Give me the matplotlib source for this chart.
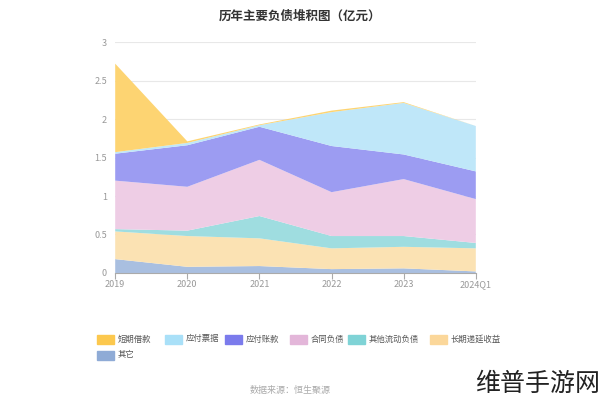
import matplotlib.pyplot as plt
from matplotlib.patches import Rectangle

plt.rcParams['font.family'] = ['Noto Sans CJK SC', 'DejaVu Sans']

years = ["2019", "2020", "2021", "2022", "2023", "2024Q1"]

# values per item (亿元), bottom of stack first
qita = [0.18, 0.08, 0.09, 0.05, 0.06, 0.02]
chang_qi_di_yan = [0.36, 0.40, 0.36, 0.27, 0.28, 0.30]
qita_liudong = [0.03, 0.07, 0.29, 0.16, 0.14, 0.07]
hetong_fuzhai = [0.63, 0.57, 0.73, 0.57, 0.74, 0.57]
yingfu_zhangkuan = [0.35, 0.54, 0.43, 0.60, 0.32, 0.36]
yingfu_piaoju = [0.02, 0.03, 0.02, 0.44, 0.67, 0.59]
duanqi_jiekuan = [1.15, 0.02, 0.01, 0.02, 0.01, 0.0]

legend_labels = ["短期借款", "应付票据", "应付账款", "合同负债", "其他流动负债", "长期递延收益", "其它"]
legend_colors = ["#fcc84e", "#a9e0f8", "#7b7bec", "#e3b6d9", "#7fd3d6", "#fbd79a", "#8fabd6"]
fill_colors = ["#fdd472", "#bfe7f9", "#9c9cf2", "#eecde5", "#9fdde0", "#fbe2b3", "#a9bfe0"]

series = [qita, chang_qi_di_yan, qita_liudong, hetong_fuzhai,
          yingfu_zhangkuan, yingfu_piaoju, duanqi_jiekuan]

fig = plt.figure(figsize=(6, 4.05), dpi=100)
ax = fig.add_axes([0.192, 0.326, 0.601, 0.570])

x = list(range(len(years)))
ax.stackplot(x, *series, colors=fill_colors[::-1], linewidth=0)

ax.set_xlim(0, len(years) - 1)
ax.set_ylim(0, 3)
ax.set_yticks([0, 0.5, 1, 1.5, 2, 2.5, 3])
ax.set_yticklabels(["0", "0.5", "1", "1.5", "2", "2.5", "3"])
ax.set_xticks(x)
ax.set_xticklabels(years)
ax.grid(axis='y', color='#e8e8e8', linewidth=0.8)
ax.set_axisbelow(True)
for s in ['top', 'right', 'left']:
    ax.spines[s].set_visible(False)
ax.spines['bottom'].set_color('#aaaaaa')
ax.tick_params(axis='y', length=0, labelsize=6.5, labelcolor='#999999', pad=6)
ax.tick_params(axis='x', length=4, color='#aaaaaa', labelsize=6.5, labelcolor='#999999', pad=1)

fig.text(0.5, 0.975, "历年主要负债堆积图（亿元）", ha='center', va='top',
         fontsize=9, fontweight='bold', color='#333333')

# legend (hand placed, like the original)
xs = [97, 165, 225, 290, 348, 430, 97]
ys = [339, 339, 339, 339, 339, 339, 355]
for lab, col, px, py in zip(legend_labels, legend_colors, xs, ys):
    fig.patches.append(Rectangle((px / 600, 1 - (py + 4.5) / 405), 17 / 600, 9 / 405,
                                 transform=fig.transFigure, color=col))
    fig.text((px + 21) / 600, 1 - py / 405, lab, fontsize=6, color='#555555', va='center')

fig.text(290 / 600, 1 - 390 / 405, "数据来源：恒生聚源", ha='center', va='center',
         fontsize=6.5, color='#aaaaaa')
fig.text(600 / 600, 1 - 384 / 405, "维普手游网", ha='right', va='center',
         fontsize=18, color='#222222')

fig.savefig("out.png", dpi=100)
